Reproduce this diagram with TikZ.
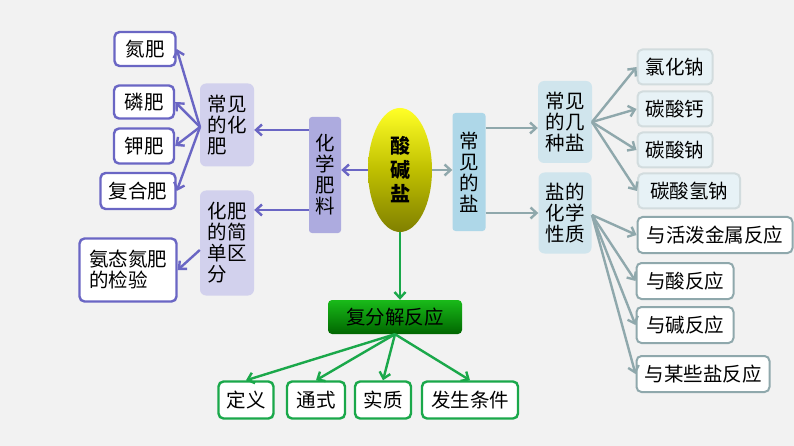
\documentclass[tikz,border=0pt]{standalone}
\usepackage{fontspec}
\setmainfont{Noto Sans CJK SC}
\usetikzlibrary{shapes.geometric,arrows.meta}
\definecolor{pu}{HTML}{6A66C4}
\definecolor{tl}{HTML}{8FA8AC}
\definecolor{gr}{HTML}{1AA84A}
\tikzset{x=1pt,y=-1pt,
 t/.style={font=\fontsize{19.5}{21}\selectfont,align=left,inner sep=0pt},
 pbox/.style={t,draw=pu,line width=2.4pt,rounded corners=5pt,fill=white},
 pl/.style={t,fill=#1,rounded corners=6pt},
 tbox/.style={t,draw=#1,line width=2pt,rounded corners=5pt},
 gbox/.style={t,draw=gr,line width=2.4pt,rounded corners=5pt,fill=white},
 pa/.style={draw=pu,line width=2.4pt,-{Straight Barb[length=6pt,width=11pt]}},
 ta/.style={draw=tl,line width=2.4pt,-{Straight Barb[length=6pt,width=11pt]}},
 ga/.style={draw=gr,line width=2.4pt,-{Straight Barb[length=6pt,width=11pt]}}}
\begin{document}
\begin{tikzpicture}
\fill[black!5] (0,0) rectangle (794,446);
\useasboundingbox (0,0) rectangle (794,446);
% left
\node[pbox,minimum width=61,minimum height=34] (n1) at (145,49) {氮肥};
\node[pbox,minimum width=60,minimum height=33] (n2) at (144,102) {磷肥};
\node[pbox,minimum width=60,minimum height=35] (n3) at (144,146) {钾肥};
\node[pbox,minimum width=75,minimum height=36] (n4) at (138,191) {复合肥};
\node[pbox,minimum width=97,minimum height=63] (n5) at (128,270) {氨态氮肥\\的检验};
\node[pl=pu!30,minimum width=54,minimum height=83] (c1) at (227,125) {常见\\的化\\肥};
\node[pl=pu!30,minimum width=54,minimum height=105] (c2) at (227,243) {化肥\\的简\\单区\\分};
\node[pl=pu!55,rounded corners=3pt,minimum width=32,minimum height=116] (hf) at (325,175) {化\\学\\肥\\料};
\shade[top color=yellow!85!white,bottom color=black!50!yellow!70!olive] (400,170) ellipse [x radius=32,y radius=62];
\node[t,font=\bfseries\fontsize{20}{24}\selectfont,minimum width=64,minimum height=124] (m) at (400,170) {酸\\碱\\盐};
\node[pl=cyan!50!teal!35,rounded corners=3pt,minimum width=33,minimum height=118] (ys) at (469,172) {常\\见\\的\\盐};
\node[pl=cyan!30!teal!20,minimum width=54,minimum height=82] (s1) at (565,122) {常见\\的几\\种盐};
\node[pl=cyan!30!teal!20,minimum width=53,minimum height=81] (s2) at (565,213) {盐的\\化学\\性质};
\tikzset{lb/.style={tbox=tl!40,fill=cyan!30!teal!10,minimum height=35}}
\node[lb,minimum width=75] (r1) at (675,67) {氯化钠};
\node[lb,minimum width=75] (r2) at (675,109) {碳酸钙};
\node[lb,minimum width=75] (r3) at (675,150) {碳酸钠};
\node[lb,minimum width=102] (r4) at (689,191) {碳酸氢钠};
\tikzset{wb/.style={tbox=tl,fill=white,minimum height=36}}
\node[wb,minimum width=155] (q1) at (715,235) {与活泼金属反应};
\node[wb,minimum width=97] (q2) at (685,281) {与酸反应};
\node[wb,minimum width=97] (q3) at (685,325) {与碱反应};
\node[wb,minimum width=133] (q4) at (703,374) {与某些盐反应};
\shade[top color=green!70!black!90,bottom color=green!40!black,rounded corners=4pt] (328,300) rectangle (462,334);
\node[t,minimum width=134,minimum height=34] (fj) at (395,317) {复分解反应};
\node[gbox,minimum width=55,minimum height=37] (g1) at (246,400) {定义};
\node[gbox,minimum width=58,minimum height=37] (g2) at (316,400) {通式};
\node[gbox,minimum width=56,minimum height=37] (g3) at (383,400) {实质};
\node[gbox,minimum width=96,minimum height=37] (g4) at (470,400) {发生条件};
% arrows
\draw[pa] (m.west) -- (hf.east|-m.west);
\draw[pa] (hf.west|-0,130) -- (c1.east|-0,130);
\draw[pa] (hf.west|-0,210) -- (c2.east|-0,210);
\coordinate (o1) at (200,127);
\foreach \n in {n1,n2,n3,n4} \draw[pa] (o1) -- (\n.east);
\draw[pa] (c2.west|-0,250) -- (n5.east);
\draw[ta] (m.east) -- (ys.west|-m.east);
\draw[ta] (ys.east|-0,128) -- (s1.west|-0,128);
\draw[ta] (ys.east|-0,213) -- (s2.west|-0,213);
\coordinate (o2) at (592,122);
\foreach \n in {r1,r2,r3,r4} \draw[ta] (o2) -- (\n.west);
\coordinate (o3) at (592,215);
\foreach \n in {q1,q2,q3,q4} \draw[ta] (o3) -- (\n.west);
\draw[ga] (400,232) -- (fj.north-|400,0);
\foreach \n in {g1,g2,g3,g4} \draw[ga] (fj.south) -- (\n.north);
\end{tikzpicture}
\end{document}
